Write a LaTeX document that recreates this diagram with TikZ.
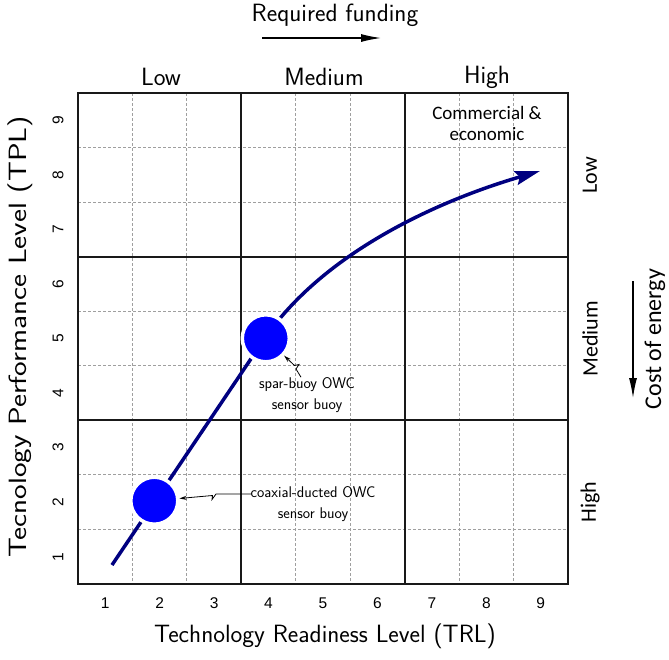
\documentclass[tikz,border=0pt]{standalone}
\usepackage{fontspec}
\newfontfamily\numfont{Liberation Sans}
\newfontfamily\calfont{Carlito}
\usetikzlibrary{arrows.meta,calc}
\definecolor{curvecol}{RGB}{0,0,128}
\definecolor{dotcol}{RGB}{0,0,255}
\begin{document}
\begin{tikzpicture}[x=1pt,y=-1pt,
  lab/.style={font=\sffamily\fontsize{25}{30}\selectfont, inner sep=0pt},
  num/.style={font=\numfont\fontsize{15.5}{18}\selectfont, inner sep=0pt},
  cal/.style={font=\calfont\fontsize{22}{26}\selectfont, inner sep=0pt},
  com/.style={font=\calfont\fontsize{19}{21}\selectfont, align=center, inner sep=0pt},
  ann/.style={font=\sffamily\fontsize{15.5}{21}\selectfont, align=center, inner sep=0pt},
  majorline/.style={line width=1.8pt, black!90},
  minorline/.style={gray!75, line width=0.9pt, dash pattern=on 3pt off 2pt},
  dot/.style={circle, fill=dotcol, draw=white, line width=3.5pt, minimum size=47pt, inner sep=0pt},
  leader/.style={line width=0.8pt, -{Stealth[length=7pt,width=4pt]}},
  dirarrow/.style={line width=1.2pt, -{Latex[length=20pt,width=8pt]}},
  trend/.style={curvecol, line width=3.5pt, -{Stealth[length=25pt,width=14pt,inset=4pt]}},
]
\useasboundingbox (0,0) rectangle (669,659);
% minor grid
\foreach \k in {1,2,4,5,7,8} {
  \draw[minorline] ({78+\k*54.444},93) -- ({78+\k*54.444},584);
  \draw[minorline] (78,{584-\k*54.556}) -- (568,{584-\k*54.556});
}
% major grid
\foreach \k in {3,6} {
  \draw[majorline] ({78+\k*54.444},93) -- ({78+\k*54.444},584);
  \draw[majorline] (78,{584-\k*54.556}) -- (568,{584-\k*54.556});
}
\draw[majorline] (78,93) rectangle (568,584);
% tick numbers
\foreach \k in {1,...,9} {
  \node[num] (x\k) at ({78+(\k-0.5)*54.444},603) {\k};
  \node[num, rotate=90] (y\k) at (58,{584-(\k-0.5)*54.556}) {\k};
}
% axis labels
\node[lab] (xlab) at (325,636) {Technology Readiness Level (TRL)};
\node[lab, rotate=90] (ylab) at (20,337) {\scalebox{1.24}[1]{Tecnology Performance Level (TPL)}};
% top
\node[lab] (req) at (335,15) {Required funding};
\coordinate (fa) at (262,38);
\coordinate (fb) at (381,38);
\draw[dirarrow] (fa) -- (fb);
\node[lab] (clow) at (161,77) {Low};
\node[lab] (cmed) at (324,77) {Medium};
\node[lab] (chigh) at (487,77) {High};
% right
\node[cal, rotate=90] (rlow) at (590,175) {Low};
\node[cal, rotate=90] (rmed) at (590,339) {Medium};
\node[cal, rotate=90] (rhigh) at (590,502) {High};
\node[cal, rotate=90, font=\calfont\fontsize{24}{28}\selectfont] (cost) at (655,339) {Cost of energy};
\coordinate (ea) at (633,281);
\coordinate (eb) at (633,398);
\draw[dirarrow] (ea) -- (eb);
\node[com] (comm) at (487,123) {Commercial \&\\economic};
% trend curve
\coordinate (s0) at (112,565);
\coordinate (s1) at (265,338);
\coordinate (s2) at (540,171);
\draw[trend] (s0) -- (s1) .. controls (323,254) and (434,202) .. (s2);
% dots
\node[dot] (c1) at (154.3,500.7) {};
\node[dot] (c2) at (265.8,338.3) {};
% annotations
\node[ann] (t1) at (313,504) {coaxial-ducted OWC\\sensor buoy};
\node[ann] (t2) at (307,395) {spar-buoy OWC\\sensor buoy};
\draw[leader] ($(t1.west)+(1,-10)$) -- (216,494) -- (212,499.5) -- (212.5,495.5) -- (c1);
\draw[leader] ($(t2.north)+(-6,0)$) -- (296,369) -- (299,364.5) -- (294.5,365.5) -- (c2);
\end{tikzpicture}
\end{document}
